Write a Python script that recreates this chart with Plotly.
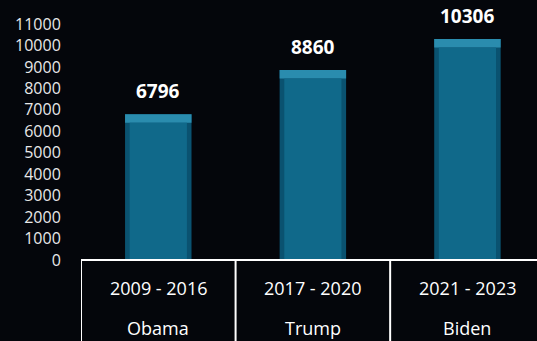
import plotly.graph_objects as go

periods = ["2009 - 2016", "2017 - 2020", "2021 - 2023"]
presidents = ["Obama", "Trump", "Biden"]
values = [6796, 8860, 10306]
y_ticks = list(range(0, 11001, 1000))
y_tick_text = [str(t) for t in y_ticks]

xs = list(range(len(values)))
bevel = 400
FONT = "Open Sans"

fig = go.Figure()
# side/edge layer
fig.add_trace(go.Bar(x=xs, y=values, width=0.43, marker=dict(color="#0a5270", line=dict(width=0)),
                     hoverinfo="skip", showlegend=False))
# top bevel
fig.add_trace(go.Bar(x=xs, y=[bevel] * len(values), base=[v - bevel for v in values], width=0.43,
                     marker=dict(color="#2a8cae", line=dict(width=0)), hoverinfo="skip", showlegend=False))
# front face
fig.add_trace(go.Bar(x=xs, y=[v - bevel for v in values], width=0.37,
                     marker=dict(color="#10698a", line=dict(width=0)), showlegend=False))

for i, v in enumerate(values):
    fig.add_annotation(x=i, y=v, xref="x", yref="y", text="<b>%d</b>" % v, showarrow=False,
                       yanchor="bottom", yshift=8, font=dict(family=FONT, size=19, color="white"))
    fig.add_annotation(x=i, y=0, xref="x", yref="paper", text=periods[i], showarrow=False,
                       yanchor="middle", yshift=-28, font=dict(family=FONT, size=18, color="white"))
    fig.add_annotation(x=i, y=0, xref="x", yref="paper", text=presidents[i], showarrow=False,
                       yanchor="middle", yshift=-68, font=dict(family=FONT, size=18, color="white"))

# table lines
line = dict(color="white", width=2)
fig.add_shape(type="line", xref="paper", yref="paper", x0=0, x1=1, y0=0, y1=0, line=line)
for b in [-0.5, 0.5, 1.5]:
    fig.add_shape(type="line", xref="x", yref="paper", x0=b, x1=b, y0=0, y1=-0.4, line=line)

fig.update_layout(
    width=537, height=341,
    margin=dict(l=81, r=0, t=24, b=81),
    paper_bgcolor="#04060b", plot_bgcolor="#04060b",
    barmode="overlay",
    xaxis=dict(range=[-0.5, 2.45], showticklabels=False, showgrid=False, zeroline=False, showline=False),
    yaxis=dict(range=[0, 11000], tickvals=y_ticks, ticktext=y_tick_text, showgrid=False, zeroline=False,
               showline=False, tickfont=dict(family=FONT, size=16, color="#e8e8e8"), ticks="outside",
               ticklen=16, tickcolor="rgba(0,0,0,0)"),
)

fig.write_html("out.html")
